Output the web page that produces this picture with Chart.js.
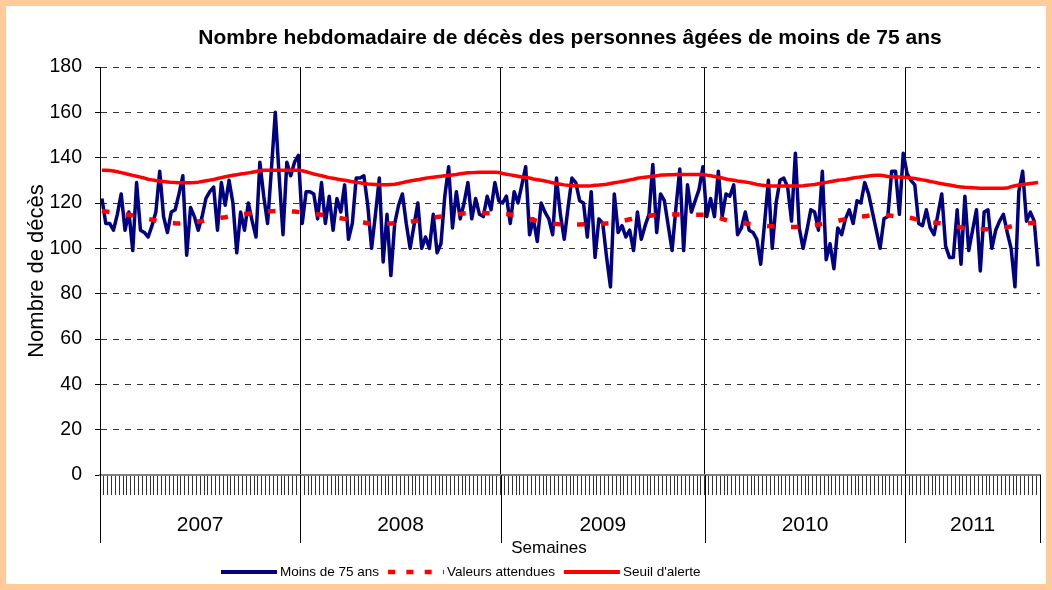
<!DOCTYPE html>
<html lang="fr">
<head>
<meta charset="utf-8">
<title>Nombre hebdomadaire de décès</title>
<script src="https://cdn.jsdelivr.net/npm/chart.js@4.4.1/dist/chart.umd.min.js"></script>
<style>
  html, body { margin: 0; padding: 0; }
  body { width: 1052px; height: 590px; background: #ffcc99; position: relative; overflow: hidden; }
  #sheet { position: absolute; left: 6px; top: 6px; width: 1040px; height: 578px; background: #fff; }
  #deathsChart { position: absolute; left: 0; top: 0; }
</style>
</head>
<body>
<div id="sheet"></div>
<canvas id="deathsChart" width="1052" height="590"></canvas>
<script>
const FONT = "'Liberation Sans', Arial, sans-serif";

// categories
const years = ['2007', '2008', '2009', '2010', '2011'];
const weeksPerYear = [52, 52, 53, 52, 35];
const yTickValues = [0, 20, 40, 60, 80, 100, 120, 140, 160, 180];
const seriesNames = ['Moins de 75 ans', 'Valeurs attendues', "Seuil d'alerte"];

// Moins de 75 ans (weekly deaths)
const deaths2007 = [122,111,111,108,115,124,108,116,99,129,108,107,105,110,116,134,114,107,116,117,124,132,97,118,114,108,114,122,125,127,108,129,119,130,120,98,116,108,120,112,105,138,123,111,135,160,132,106,138,132,138,141];
const deaths2008 = [111,125,125,124,113,129,111,123,108,122,116,128,104,111,131,131,132,119,100,115,131,94,115,88,111,119,124,111,100,110,120,100,105,100,115,98,102,123,136,109,125,113,120,129,113,122,115,114,123,117,129,121];
const deaths2009 = [120,123,111,125,120,128,136,106,113,103,120,116,113,106,131,115,104,118,131,129,121,120,105,125,96,113,111,96,83,124,107,110,105,108,99,116,104,110,115,137,107,124,121,110,99,118,135,99,128,116,121,126,136];
const deaths2010 = [114,122,114,134,114,124,123,128,106,109,116,108,107,104,93,111,130,100,120,130,131,127,112,142,109,100,108,117,116,108,134,95,102,91,109,106,113,117,111,121,120,129,124,116,108,100,113,114,134,134,115,142];
const deaths2011 = [133,130,128,111,110,117,109,106,115,124,101,96,96,117,93,123,99,108,117,90,116,117,100,108,112,115,107,100,83,125,134,112,116,112,92];

// Valeurs attendues
const expected2007 = [116.5,116.3,116.0,115.8,115.5,115.3,115.0,114.8,114.5,114.2,113.8,113.5,113.0,112.6,112.3,112.0,111.7,111.5,111.3,111.1,111.0,111.0,111.2,111.4,111.6,111.8,112.0,112.3,112.6,112.9,113.2,113.5,113.7,114.0,114.3,114.6,114.9,115.1,115.3,115.5,115.7,115.9,116.1,116.3,116.4,116.5,116.5,116.5,116.4,116.3,116.2,116.0];
const expected2008 = [115.9,115.7,115.5,115.2,115.0,114.8,114.5,114.2,113.9,113.6,113.3,113.0,112.7,112.4,112.0,111.7,111.4,111.1,111.0,110.9,110.8,110.8,110.9,111.0,111.1,111.2,111.4,111.6,111.8,112.0,112.3,112.6,112.9,113.2,113.5,113.8,114.0,114.3,114.6,114.8,115.0,115.2,115.4,115.5,115.6,115.6,115.6,115.6,115.5,115.5,115.4,115.3];
const expected2009 = [115.2,115.1,114.9,114.8,114.4,114.0,113.5,113.0,112.5,112.0,111.7,111.4,111.1,110.9,110.7,110.6,110.5,110.5,110.5,110.5,110.5,110.6,110.6,110.7,110.7,110.8,110.9,111.0,111.1,111.4,111.7,112.0,112.4,112.8,113.1,113.4,113.7,114.0,114.3,114.6,114.8,114.9,115.0,115.0,115.0,114.9,114.9,114.8,114.8,114.8,114.8,114.8,114.8];
const expected2010 = [114.8,114.4,114.0,113.5,113.0,112.5,112.1,111.8,111.5,111.2,111.0,110.8,110.6,110.4,110.2,110.0,109.8,109.7,109.6,109.5,109.4,109.4,109.4,109.4,109.5,109.5,109.7,109.9,110.2,110.5,110.8,111.0,111.3,111.7,112.1,112.5,112.8,113.1,113.4,113.7,114.0,114.2,114.4,114.6,114.8,114.8,114.7,114.6,114.4,114.2,114.0,113.9];
const expected2011 = [113.7,113.4,113.0,112.5,112.1,111.8,111.6,111.4,111.2,111.0,110.7,110.4,110.0,109.6,109.2,108.8,108.6,108.5,108.4,108.4,108.4,108.4,108.5,108.5,108.7,109.0,109.3,109.7,110.1,110.5,110.8,111.0,111.2,111.3,111.4];

// Seuil d'alerte
const alert2007 = [134.5,134.4,134.3,134.1,133.8,133.4,133.0,132.6,132.2,131.8,131.4,131.0,130.5,130.2,129.9,129.7,129.5,129.3,129.1,129.0,128.9,128.9,128.9,128.9,129.0,129.2,129.5,129.8,130.1,130.4,130.8,131.2,131.6,131.9,132.2,132.5,132.8,133.0,133.3,133.6,133.9,134.2,134.4,134.5,134.5,134.5,134.5,134.5,134.5,134.5,134.5,134.4];
const alert2008 = [134.2,133.8,133.3,132.8,132.4,132.0,131.6,131.2,130.9,130.6,130.3,130.0,129.7,129.4,129.1,128.9,128.6,128.4,128.3,128.2,128.1,128.1,128.1,128.2,128.3,128.6,129.0,129.4,129.7,130.0,130.3,130.6,130.9,131.2,131.4,131.6,131.8,132.0,132.2,132.4,132.6,132.9,133.1,133.3,133.4,133.5,133.6,133.6,133.6,133.6,133.6,133.5];
const alert2009 = [133.0,132.7,132.4,132.1,131.8,131.5,131.3,131.0,130.6,130.3,130.0,129.7,129.3,128.9,128.6,128.3,128.0,127.8,127.7,127.6,127.5,127.5,127.5,127.6,127.8,127.9,128.1,128.3,128.6,128.9,129.2,129.5,129.8,130.2,130.5,130.9,131.2,131.4,131.6,131.8,132.0,132.3,132.4,132.5,132.5,132.6,132.6,132.6,132.6,132.6,132.6,132.6,132.6];
const alert2010 = [132.3,132.0,131.7,131.4,131.0,130.6,130.3,130.0,129.7,129.5,129.3,129.0,128.6,128.2,127.9,127.7,127.6,127.5,127.5,127.5,127.5,127.5,127.5,127.5,127.5,127.6,127.8,128.0,128.2,128.5,128.8,129.1,129.4,129.7,130.0,130.2,130.4,130.7,131.0,131.3,131.5,131.7,131.9,132.1,132.2,132.2,132.0,131.7,131.6,131.5,131.5,131.4];
const alert2011 = [131.3,131.0,130.8,130.5,130.2,129.9,129.5,129.2,128.8,128.5,128.2,127.9,127.6,127.3,127.1,126.9,126.8,126.7,126.6,126.5,126.5,126.5,126.5,126.5,126.5,126.5,126.6,127.2,127.6,127.9,128.2,128.4,128.6,128.8,129.0];

const weekLabels = years.flatMap((yr, k) =>
    Array.from({ length: weeksPerYear[k] }, (_, w) => `${yr} S${w + 1}`));

const deaths = [].concat(deaths2007, deaths2008, deaths2009, deaths2010, deaths2011);
const expected = [].concat(expected2007, expected2008, expected2009, expected2010, expected2011);
const alertLevel = [].concat(alert2007, alert2008, alert2009, alert2010, alert2011);

// index of first week of each year -> solid separator inside the plot
const yearStarts = [];
weeksPerYear.reduce((acc, n) => { yearStarts.push(acc); return acc + n; }, 0);

// legend sample styles (Excel draws the legend dashes shorter than in the plot)
const legendDash = [[], [7, 11.3], []];
const legendWidth = [4, 4.5, 4];

const yearAxis = {
    id: 'yearAxis',
    afterDraw(chart) {
        const { ctx, chartArea: area, scales: { x } } = chart;
        const half = (x.getPixelForValue(1) - x.getPixelForValue(0)) / 2;

        ctx.save();
        ctx.strokeStyle = '#000';
        ctx.lineWidth = 1;
        ctx.fillStyle = '#000';
        ctx.font = `21px ${FONT}`;
        ctx.textAlign = 'center';
        ctx.textBaseline = 'middle';

        let first = 0;
        years.forEach((yr, k) => {
            const last = first + weeksPerYear[k] - 1;
            const left = x.getPixelForValue(first) - half;
            const right = x.getPixelForValue(last) + half;
            ctx.beginPath();
            [left, right].forEach(px => {
                const p = Math.round(px) + 0.5;
                ctx.moveTo(p, area.bottom);
                ctx.lineTo(p, area.bottom + 68);
            });
            ctx.stroke();
            ctx.fillText(yr, (left + right) / 2, area.bottom + 50);
            first = last + 1;
        });

        // axis title
        ctx.font = `17px ${FONT}`;
        ctx.fillText('Semaines', 549, area.bottom + 73);

        // legend
        ctx.font = `13.5px ${FONT}`;
        ctx.textAlign = 'left';
        let lx = 221;
        const ly = 572;
        chart.data.datasets.forEach((ds, i) => {
            ctx.beginPath();
            ctx.setLineDash(legendDash[i]);
            ctx.lineCap = 'butt';
            ctx.lineWidth = legendWidth[i];
            ctx.strokeStyle = ds.borderColor;
            ctx.moveTo(lx, ly);
            ctx.lineTo(lx + 56, ly);
            ctx.stroke();
            lx += 59;
            ctx.fillText(ds.label, lx, ly);
            lx += ctx.measureText(ds.label).width + 9;
        });
        ctx.restore();
    }
};

const ctx = document.getElementById('deathsChart').getContext('2d');
const deathsChart = new Chart(ctx, {
    type: 'line',
    data: {
        labels: weekLabels,
        datasets: [{
            label: seriesNames[0],
            data: deaths,
            borderColor: '#000080',
            borderWidth: 3.5,
            borderJoinStyle: 'round',
            pointRadius: 0,
            tension: 0,
            order: 3
        }, {
            label: seriesNames[1],
            data: expected,
            borderColor: '#ff0000',
            borderWidth: 4.5,
            borderDash: [7.5, 16.5],
            borderCapStyle: 'butt',
            pointRadius: 0,
            tension: 0,
            order: 2
        }, {
            label: seriesNames[2],
            data: alertLevel,
            borderColor: '#ff0000',
            borderWidth: 3.5,
            borderJoinStyle: 'round',
            pointRadius: 0,
            tension: 0,
            order: 1
        }]
    },
    options: {
        responsive: false,
        animation: false,
        devicePixelRatio: 1,
        layout: { padding: { left: 0, right: 12, top: 0, bottom: 0 } },
        plugins: {
            legend: { display: false },
            tooltip: { enabled: false },
            title: {
                display: true,
                fullSize: false,
                text: 'Nombre hebdomadaire de décès des personnes âgées de moins de 75 ans',
                color: '#000',
                font: { family: FONT, size: 21, weight: 'bold', lineHeight: 1.2 },
                padding: { top: 26, bottom: 15.8 }
            }
        },
        scales: {
            x: {
                offset: true,
                ticks: { display: false, autoSkip: false },
                grid: {
                    offset: true,
                    drawOnChartArea: true,
                    color: c => yearStarts.includes(c.index) ? '#000' : 'rgba(0,0,0,0)',
                    tickColor: '#333',
                    tickLength: 20,
                    lineWidth: 1
                },
                border: { display: true, color: '#808080', width: 2 },
                afterFit: s => { s.height = 115; }
            },
            y: {
                min: yTickValues[0],
                max: yTickValues[yTickValues.length - 1],
                afterBuildTicks: s => { s.ticks = yTickValues.map(v => ({ value: v })); },
                ticks: { color: '#000', padding: 13, font: { family: FONT, size: 19.5 } },
                grid: {
                    color: c => (c.tick && c.tick.value === 0) ? 'rgba(0,0,0,0)' : '#333',
                    tickColor: '#000',
                    tickLength: 5,
                    lineWidth: 1
                },
                border: { display: true, color: '#000', width: 1, dash: [6, 6] },
                title: {
                    display: true,
                    text: 'Nombre de décès',
                    color: '#000',
                    font: { family: FONT, size: 22 },
                    padding: { top: 24, bottom: 0 }
                },
                afterFit: s => { s.width = 100; }
            }
        }
    },
    plugins: [yearAxis]
});
</script>
</body>
</html>
